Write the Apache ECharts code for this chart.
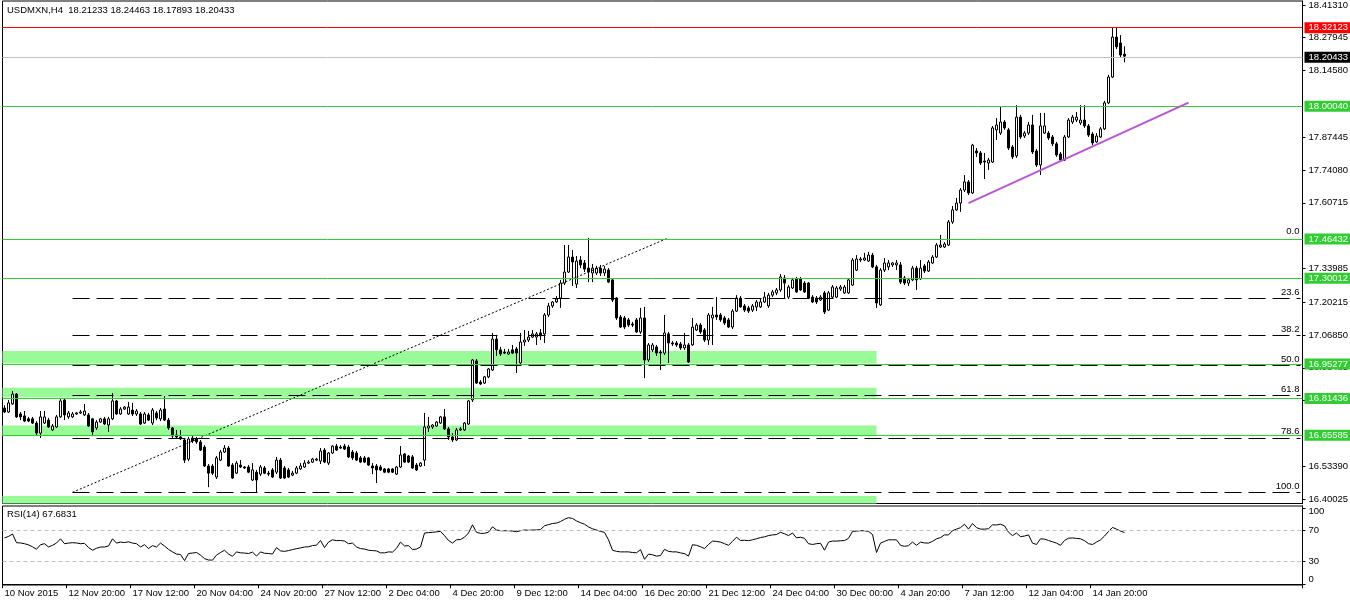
<!DOCTYPE html>
<html><head><meta charset="utf-8">
<script src="https://cdn.jsdelivr.net/npm/echarts@6/dist/echarts.min.js"></script>
<style>html,body{margin:0;padding:0;background:#fff}#c{width:1350px;height:606px}</style>
</head><body><div id="c"></div>
<script>
const symbolName = 'USDMXN,H4';
const rsiName = 'RSI(14)';
const timeLabels = ['10 Nov 2015','12 Nov 20:00','17 Nov 12:00','20 Nov 04:00','24 Nov 20:00','27 Nov 12:00','2 Dec 04:00','4 Dec 20:00','9 Dec 12:00','14 Dec 04:00','16 Dec 20:00','21 Dec 12:00','24 Dec 04:00','30 Dec 00:00','4 Jan 20:00','7 Jan 12:00','12 Jan 04:00','14 Jan 20:00'];
const opens = [16.771,16.755,16.788,16.828,16.747,16.739,16.727,16.727,16.710,16.669,16.710,16.722,16.682,16.694,16.735,16.804,16.735,16.735,16.747,16.751,
16.743,16.743,16.727,16.690,16.714,16.727,16.702,16.727,16.800,16.747,16.767,16.747,16.763,16.747,16.747,16.710,16.743,16.710,16.751,16.727,
16.767,16.722,16.690,16.661,16.653,16.641,16.563,16.649,16.645,16.633,16.612,16.535,16.535,16.490,16.559,16.592,16.608,16.539,16.506,16.539,
16.531,16.531,16.478,16.510,16.502,16.527,16.506,16.519,16.510,16.559,16.527,16.519,16.498,16.506,16.523,16.531,16.547,16.551,16.559,16.555,
16.600,16.547,16.588,16.616,16.612,16.616,16.612,16.592,16.588,16.568,16.568,16.568,16.535,16.535,16.531,16.523,16.523,16.523,16.502,16.531,
16.584,16.576,16.572,16.539,16.535,16.559,16.690,16.694,16.698,16.710,16.735,16.686,16.653,16.641,16.682,16.682,16.706,16.804,16.963,16.877,
16.873,16.898,16.926,17.052,17.008,16.999,16.991,17.008,17.012,16.955,17.040,17.048,17.060,17.060,17.077,17.073,17.150,17.187,17.203,17.219,
17.280,17.325,17.386,17.276,17.374,17.362,17.341,17.321,17.321,17.341,17.321,17.333,17.293,17.219,17.142,17.138,17.130,17.113,17.130,17.081,
17.138,16.967,17.008,17.020,16.999,16.995,17.073,17.036,17.036,17.032,17.016,17.028,17.028,17.089,17.109,17.089,17.048,17.138,17.150,17.150,
17.138,17.130,17.101,17.166,17.219,17.187,17.179,17.170,17.183,17.183,17.203,17.187,17.231,17.240,17.252,17.301,17.223,17.260,17.297,17.297,
17.280,17.280,17.223,17.219,17.211,17.240,17.170,17.223,17.223,17.256,17.240,17.240,17.272,17.333,17.374,17.374,17.370,17.394,17.346,17.191,
17.333,17.346,17.354,17.354,17.354,17.301,17.280,17.293,17.341,17.297,17.350,17.329,17.362,17.386,17.427,17.427,17.435,17.529,17.578,17.606,
17.659,17.692,17.647,17.818,17.810,17.777,17.769,17.773,17.904,17.891,17.936,17.904,17.834,17.798,17.956,17.879,17.891,17.924,17.818,17.761,
17.891,17.891,17.875,17.847,17.806,17.781,17.875,17.936,17.944,17.932,17.944,17.920,17.887,17.855,17.875,17.908,18.014,18.119,18.282,18.258,
18.21233];
const highs = [16.783,16.804,16.840,16.832,16.755,16.759,16.735,16.735,16.718,16.759,16.759,16.731,16.706,16.743,16.808,16.808,16.759,16.755,16.755,16.763,
16.788,16.751,16.731,16.722,16.731,16.735,16.735,16.832,16.804,16.775,16.779,16.796,16.792,16.767,16.755,16.755,16.751,16.771,16.759,16.771,
16.820,16.731,16.694,16.682,16.682,16.649,16.653,16.657,16.653,16.641,16.620,16.543,16.543,16.576,16.600,16.620,16.616,16.547,16.555,16.559,
16.535,16.539,16.547,16.519,16.539,16.535,16.515,16.527,16.572,16.568,16.535,16.527,16.515,16.535,16.547,16.559,16.559,16.568,16.568,16.608,
16.608,16.592,16.620,16.625,16.620,16.625,16.620,16.600,16.596,16.576,16.576,16.572,16.547,16.543,16.539,16.527,16.527,16.527,16.535,16.616,
16.588,16.580,16.580,16.547,16.551,16.751,16.735,16.706,16.718,16.739,16.767,16.694,16.669,16.690,16.694,16.714,16.804,16.971,16.971,16.885,
16.902,16.934,17.077,17.069,17.020,17.012,17.012,17.028,17.020,17.077,17.089,17.085,17.089,17.081,17.093,17.158,17.199,17.207,17.227,17.293,
17.435,17.435,17.415,17.390,17.390,17.374,17.464,17.358,17.350,17.354,17.350,17.341,17.297,17.223,17.150,17.146,17.138,17.122,17.138,17.179,
17.183,17.036,17.036,17.028,17.008,17.150,17.081,17.044,17.044,17.040,17.077,17.036,17.138,17.117,17.117,17.097,17.158,17.183,17.223,17.158,
17.146,17.138,17.174,17.231,17.227,17.195,17.187,17.195,17.211,17.219,17.244,17.240,17.252,17.260,17.317,17.313,17.272,17.301,17.305,17.305,
17.288,17.284,17.231,17.227,17.231,17.248,17.248,17.272,17.268,17.272,17.272,17.297,17.382,17.394,17.386,17.403,17.407,17.403,17.354,17.341,
17.382,17.374,17.366,17.374,17.366,17.309,17.301,17.350,17.350,17.374,17.358,17.374,17.394,17.443,17.476,17.447,17.537,17.594,17.627,17.667,
17.720,17.700,17.847,17.830,17.818,17.810,17.790,17.920,17.952,17.997,17.944,17.912,17.842,18.005,17.965,17.899,17.936,17.965,17.826,17.973,
17.973,17.899,17.883,17.855,17.814,17.883,17.952,17.965,17.977,18.005,18.005,17.928,17.895,17.891,17.916,18.022,18.128,18.32123,18.319,18.290,
18.24463];
const lows = [16.751,16.751,16.784,16.731,16.722,16.714,16.714,16.706,16.661,16.649,16.706,16.690,16.678,16.690,16.731,16.722,16.727,16.731,16.743,16.747,
16.739,16.694,16.657,16.682,16.710,16.702,16.674,16.722,16.743,16.743,16.763,16.743,16.739,16.739,16.702,16.706,16.718,16.702,16.722,16.718,
16.718,16.682,16.649,16.649,16.641,16.547,16.555,16.629,16.625,16.596,16.531,16.449,16.498,16.482,16.555,16.588,16.531,16.482,16.502,16.527,
16.523,16.506,16.474,16.429,16.494,16.502,16.494,16.486,16.502,16.482,16.482,16.486,16.494,16.502,16.519,16.527,16.543,16.547,16.555,16.543,
16.547,16.539,16.584,16.596,16.604,16.600,16.568,16.559,16.555,16.547,16.547,16.535,16.502,16.466,16.515,16.506,16.506,16.506,16.498,16.527,
16.547,16.547,16.523,16.515,16.531,16.535,16.674,16.686,16.694,16.706,16.682,16.641,16.633,16.637,16.678,16.678,16.702,16.796,16.869,16.865,
16.869,16.893,16.922,16.983,16.983,16.991,16.987,16.991,16.914,16.946,17.024,17.040,17.056,17.028,17.048,17.036,17.142,17.179,17.199,17.179,
17.272,17.321,17.268,17.260,17.341,17.325,17.284,17.284,17.313,17.309,17.309,17.280,17.203,17.130,17.097,17.093,17.101,17.101,17.077,17.073,
16.893,16.959,16.999,16.983,16.926,16.987,16.955,17.024,17.020,17.008,17.008,16.955,17.024,17.085,17.073,17.040,17.028,17.028,17.130,17.122,
17.109,17.097,17.093,17.162,17.179,17.162,17.158,17.162,17.166,17.179,17.199,17.179,17.223,17.231,17.244,17.219,17.215,17.256,17.240,17.248,
17.240,17.215,17.199,17.195,17.207,17.154,17.166,17.219,17.219,17.248,17.236,17.236,17.268,17.329,17.366,17.370,17.366,17.341,17.179,17.187,
17.325,17.333,17.346,17.333,17.276,17.272,17.268,17.288,17.252,17.293,17.321,17.325,17.358,17.382,17.423,17.423,17.431,17.521,17.574,17.570,
17.651,17.639,17.643,17.794,17.761,17.704,17.741,17.769,17.863,17.883,17.904,17.822,17.785,17.790,17.867,17.871,17.883,17.806,17.753,17.720,
17.887,17.863,17.838,17.794,17.773,17.777,17.871,17.928,17.936,17.924,17.912,17.875,17.842,17.851,17.871,17.904,18.009,18.115,18.233,18.201,
18.17893];
const closes = [16.755,16.792,16.828,16.735,16.735,16.718,16.718,16.710,16.669,16.735,16.735,16.694,16.698,16.735,16.800,16.743,16.751,16.747,16.751,16.755,
16.759,16.698,16.674,16.714,16.727,16.706,16.727,16.800,16.747,16.767,16.775,16.775,16.747,16.759,16.706,16.747,16.722,16.763,16.731,16.763,
16.722,16.690,16.657,16.653,16.645,16.559,16.645,16.637,16.633,16.600,16.535,16.506,16.506,16.568,16.592,16.608,16.535,16.486,16.547,16.531,
16.527,16.510,16.519,16.478,16.531,16.506,16.502,16.490,16.559,16.486,16.486,16.490,16.506,16.527,16.535,16.547,16.551,16.563,16.563,16.596,
16.551,16.588,16.616,16.600,16.608,16.604,16.572,16.568,16.559,16.551,16.551,16.539,16.527,16.519,16.519,16.510,16.510,16.510,16.531,16.580,
16.551,16.551,16.527,16.519,16.547,16.694,16.698,16.702,16.714,16.735,16.686,16.653,16.641,16.682,16.686,16.710,16.800,16.967,16.873,16.869,
16.898,16.930,17.052,17.008,16.991,16.995,16.999,16.995,16.995,17.040,17.048,17.060,17.073,17.073,17.065,17.150,17.187,17.203,17.215,17.280,
17.325,17.386,17.366,17.370,17.354,17.337,17.325,17.341,17.341,17.321,17.337,17.284,17.211,17.138,17.101,17.101,17.109,17.109,17.081,17.138,
16.967,17.028,17.028,16.995,16.995,17.077,17.036,17.032,17.028,17.016,17.028,16.959,17.101,17.109,17.081,17.048,17.150,17.150,17.142,17.130,
17.117,17.101,17.166,17.219,17.183,17.170,17.166,17.187,17.203,17.203,17.223,17.231,17.244,17.252,17.305,17.280,17.264,17.293,17.244,17.252,
17.244,17.219,17.203,17.203,17.223,17.162,17.240,17.264,17.260,17.264,17.264,17.293,17.374,17.378,17.378,17.382,17.394,17.346,17.199,17.333,
17.362,17.362,17.362,17.362,17.284,17.280,17.293,17.341,17.293,17.341,17.329,17.366,17.386,17.435,17.435,17.439,17.529,17.578,17.606,17.659,
17.692,17.647,17.842,17.810,17.769,17.773,17.781,17.912,17.924,17.936,17.912,17.830,17.794,17.956,17.875,17.891,17.924,17.814,17.761,17.920,
17.920,17.871,17.847,17.802,17.781,17.875,17.944,17.956,17.956,17.944,17.920,17.883,17.851,17.879,17.908,18.014,18.119,18.282,18.242,18.209,
18.20433];
const rsi = [60.6,62.5,65.7,54.3,54.0,53.0,51.5,49.0,45.7,51.7,53.0,48.7,50.9,53.8,59.4,53.0,53.8,54.3,54.0,53.0,
53.5,48.0,44.5,47.0,48.7,48.7,50.0,59.4,53.8,55.1,54.5,55.5,53.8,53.0,48.7,51.7,46.6,50.5,48.7,53.8,
50.0,45.5,42.3,39.4,38.9,30.9,40.2,40.8,41.5,38.1,33.5,31.7,31.5,38.1,41.5,44.5,39.5,36.5,42.3,41.1,
40.8,40.2,42.0,36.8,42.3,40.5,40.2,39.5,47.9,43.6,43.0,44.0,45.3,46.5,47.5,48.7,49.0,50.5,51.0,57.2,
47.9,55.1,58.1,57.0,57.2,56.5,53.0,53.8,48.7,46.6,46.0,44.5,44.0,43.6,41.1,41.0,42.3,42.0,47.0,55.1,
50.0,50.5,45.3,46.0,48.7,67.0,67.5,67.9,68.5,69.1,63.6,57.2,53.8,58.1,58.5,61.5,67.0,77.7,67.9,66.5,
66.6,68.0,75.1,70.9,70.0,70.0,70.0,69.5,68.7,70.0,70.9,70.5,70.9,70.9,71.5,76.4,78.0,79.4,80.0,82.0,
84.9,87.0,86.0,82.8,80.5,78.5,75.0,72.5,70.9,69.1,67.9,58.0,44.5,43.0,42.3,42.3,42.3,41.5,41.1,45.3,
32.6,39.4,38.5,36.8,37.5,45.7,43.0,42.3,42.3,41.0,40.0,36.8,51.7,50.9,49.0,46.6,52.0,56.4,56.0,55.1,
53.0,50.9,56.0,61.5,57.2,57.5,57.0,58.1,59.5,61.0,62.0,63.6,64.5,65.0,67.9,66.0,63.6,67.0,60.6,61.5,
60.0,53.0,52.0,53.0,53.5,44.5,55.1,56.5,56.4,56.8,57.2,60.0,69.1,69.5,70.0,70.0,69.1,65.0,41.5,53.8,
56.0,58.1,58.1,58.1,50.9,49.6,50.5,55.1,50.9,55.1,54.0,53.8,56.0,59.4,61.0,64.5,64.5,70.0,72.1,74.0,
78.5,72.1,79.4,74.0,72.1,72.1,72.5,77.7,77.5,78.5,76.4,68.0,63.6,67.0,62.3,63.0,64.5,53.8,52.0,59.4,
59.0,57.2,55.5,53.8,50.9,57.2,60.2,60.5,60.0,59.4,57.0,53.0,52.0,55.1,58.0,63.0,69.0,74.3,72.0,69.5,
67.6831];
const priceTicks = [18.41310,18.27945,18.14580,17.87445,17.74080,17.60715,17.33985,17.20215,17.06850,16.93485,16.80120,16.53390,16.40025];
const rsiTicks = [0,30,70,100];
const rsiLevels = [70,30];
const greenLevels = [18.00040,17.46432,17.30012,16.95277,16.81436,16.65585];
const highLevel = 18.32123;
const bidLevel = 18.20433;
const fibRatios = [0,23.6,38.2,50,61.8,78.6,100];
const fibHigh = 17.46432, fibLow = 16.4279;
const fibStartBar = 17, fibEndBar = 166;
const zones = [[16.95277,17.0030],[16.81436,16.8540],[16.65585,16.7000],[16.3823,16.4130]];
const zoneEndBar = 218;
const trendStart = [241,17.606], trendEnd = [296,18.015];
const priceMin = 16.3823, priceMax = 18.4289;
const totalSlots = 325;

const FONT = 'Liberation Sans';
const FS = 9.5;
const n = closes.length - 1;
const cats = Array.from({length: totalSlots}, (_, i) => String(i));
const candles = opens.map((o, i) => [o, closes[i], lows[i], highs[i]]);
const header = symbolName + '  ' + [opens[n], highs[n], lows[n], closes[n]].map(v => v.toFixed(5)).join(' ');
const tickShow = (idx) => idx % 16 === 0 && idx / 16 < timeLabels.length;

function boxLabel(v, bg) {
  return {show: true, position: 'end', distance: 2, formatter: v.toFixed(5), color: '#fff', backgroundColor: bg,
    padding: [1, 5, 0, 4], fontSize: FS, fontFamily: FONT, lineHeight: 10};
}
const lineItems = [];
fibRatios.forEach(r => {
  const p = fibHigh - r / 100 * (fibHigh - fibLow);
  // the 0.0 level lies exactly under the solid green 17.46432 line, so only its caption shows
  const col = r === 0 ? 'rgba(0,0,0,0)' : '#000';
  lineItems.push([
    {xAxis: fibStartBar, yAxis: p, lineStyle: {color: col, type: [17, 7], width: 1},
     label: {show: true, position: 'insideEndTop', distance: [1, 1], formatter: r.toFixed(1), color: '#000', fontSize: FS, fontFamily: FONT}},
    {xAxis: totalSlots - 1, yAxis: p}
  ]);
});
lineItems.push([
  {xAxis: fibStartBar, yAxis: fibLow, lineStyle: {color: '#000', type: [2, 2], width: 1}, label: {show: false}},
  {xAxis: fibEndBar, yAxis: fibHigh}
]);
greenLevels.forEach(v => lineItems.push({yAxis: v, lineStyle: {color: '#32CD32', type: 'solid', width: 1}, label: boxLabel(v, '#32CD32')}));
lineItems.push({yAxis: highLevel, lineStyle: {color: '#FF0000', type: 'solid', width: 1}, label: boxLabel(highLevel, '#FF0000')});
lineItems.push({yAxis: bidLevel, lineStyle: {color: '#C0C0C0', type: 'solid', width: 1}, label: boxLabel(bidLevel, '#000000')});
lineItems.push([
  {xAxis: trendStart[0], yAxis: trendStart[1], lineStyle: {color: '#BA55D3', type: 'solid', width: 2}, label: {show: false}},
  {xAxis: trendEnd[0], yAxis: trendEnd[1]}
]);

const chart = echarts.init(document.getElementById('c'), null, {renderer: 'canvas'});
chart.setOption({
  animation: false,
  backgroundColor: '#fff',
  title: [
    {text: header, left: 7, top: 5, padding: 0, textStyle: {fontSize: FS, fontWeight: 'normal', fontFamily: FONT, color: '#000'}},
    {text: rsiName + ' ' + rsi[n].toFixed(4), left: 7, top: 509, padding: 0, textStyle: {fontSize: FS, fontWeight: 'normal', fontFamily: FONT, color: '#000'}}
  ],
  grid: [
    {left: 2.5, top: 1, width: 1300, height: 502.5, show: true, borderColor: '#000', borderWidth: 1, backgroundColor: '#fff', outerBoundsMode: 'none'},
    {left: 2.5, top: 506, width: 1300, height: 79, show: true, borderColor: '#000', borderWidth: 1, backgroundColor: '#fff', outerBoundsMode: 'none'}
  ],
  xAxis: [
    {gridIndex: 0, type: 'category', data: cats, boundaryGap: true, show: false},
    {gridIndex: 1, type: 'category', data: cats, boundaryGap: true,
     axisLine: {show: true, lineStyle: {color: '#000', width: 1}},
     axisTick: {show: true, interval: tickShow, alignWithLabel: false, length: 4, lineStyle: {color: '#000'}},
     axisLabel: {interval: tickShow, formatter: (v, idx) => timeLabels[idx / 16] || '', align: 'left', margin: 3,
       fontSize: FS, fontFamily: FONT, color: '#000', hideOverlap: false},
     splitLine: {show: false}}
  ],
  yAxis: [
    {gridIndex: 0, type: 'value', position: 'right', min: priceMin, max: priceMax, splitLine: {show: false},
     axisLine: {show: true, lineStyle: {color: '#000'}},
     axisTick: {show: true, customValues: priceTicks, length: 3, lineStyle: {color: '#000'}},
     axisLabel: {customValues: priceTicks, formatter: v => v.toFixed(5), margin: 6, fontSize: FS, fontFamily: FONT, color: '#000'}},
    {gridIndex: 1, type: 'value', position: 'right', min: -1, max: 102.3, splitLine: {show: false},
     axisLine: {show: true, lineStyle: {color: '#000'}},
     axisTick: {show: true, customValues: rsiTicks, length: 3, lineStyle: {color: '#000'}},
     axisLabel: {customValues: rsiTicks, margin: 6, fontSize: FS, fontFamily: FONT, color: '#000',
       formatter: v => v === 100 ? '{t|100}' : (v === 0 ? '{b|0}' : String(v)),
       rich: {t: {padding: [8, 0, 0, 0], fontSize: FS, fontFamily: FONT, color: '#000'},
              b: {padding: [0, 0, 10, 0], fontSize: FS, fontFamily: FONT, color: '#000'}}}}
  ],
  series: [
    {name: 'zones', type: 'line', xAxisIndex: 0, yAxisIndex: 0, data: [], z: 1, clip: false, silent: true,
     markArea: {silent: true, itemStyle: {color: '#98FB98'},
       data: zones.map(z => [{yAxis: z[1]}, {xAxis: zoneEndBar, yAxis: z[0]}])}},
    {name: symbolName, type: 'candlestick', xAxisIndex: 0, yAxisIndex: 0, data: candles, z: 2, barWidth: 2,
     itemStyle: {color: '#fff', color0: '#000', borderColor: '#000', borderColor0: '#000', borderColorDoji: '#000', borderWidth: 1}},
    {name: 'objects', type: 'line', xAxisIndex: 0, yAxisIndex: 0, data: [], z: 4, clip: false, silent: true,
     markLine: {silent: true, symbol: ['none', 'none'], animation: false, data: lineItems}},
    {name: rsiName, type: 'line', xAxisIndex: 1, yAxisIndex: 1, data: rsi, symbol: 'none', z: 3,
     lineStyle: {color: '#000', width: 1},
     markLine: {silent: true, symbol: ['none', 'none'], label: {show: false},
       lineStyle: {color: '#C0C0C0', type: [4, 3], width: 1},
       data: rsiLevels.map(v => ({yAxis: v}))}}
  ]
});
</script></body></html>
